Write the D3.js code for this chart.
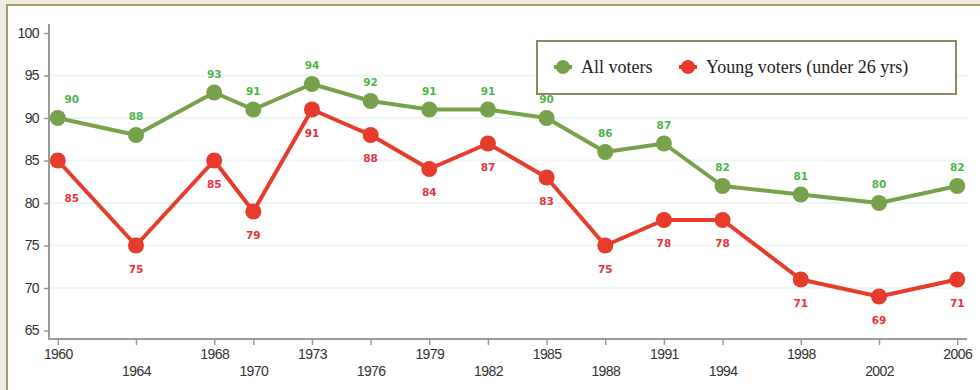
<!DOCTYPE html>
<html>
<head>
<meta charset="utf-8">
<script src="https://cdn.jsdelivr.net/npm/d3@7/dist/d3.min.js"></script>
<style>
  html, body { margin: 0; padding: 0; background: #efede2; }
  svg { display: block; }
</style>
</head>
<body>
<svg id="chart" width="980" height="390"></svg>
<script>
// Election years and turnout (%)
const years = [1960, 1964, 1968, 1970, 1973, 1976, 1979, 1982, 1985, 1988, 1991, 1994, 1998, 2002, 2006];
const allVoters = [90, 88, 93, 91, 94, 92, 91, 91, 90, 86, 87, 82, 81, 80, 82];
const youngVoters = [85, 75, 85, 79, 91, 88, 84, 87, 83, 75, 78, 78, 71, 69, 71];
const yTicks = [65, 70, 75, 80, 85, 90, 95, 100];
const seriesNames = ["All voters", "Young voters (under 26 yrs)"];

const colors = {
  allLine: "#77a24b",
  allText: "#4db64a",
  youngLine: "#e73b2c",
  youngText: "#e8333b"
};

const svg = d3.select("#chart");

// Panel background and frame
svg.append("rect").attr("x", 0).attr("y", 0).attr("width", 980).attr("height", 390).attr("fill", "#efede2");
svg.append("rect").attr("x", 7).attr("y", 5).attr("width", 980).attr("height", 400)
  .attr("fill", "#ffffff").attr("stroke", "#a39c6e").attr("stroke-width", 2);

const x = d3.scaleLinear().domain([1959.5, 2006.5]).range([48, 967]);
const y = d3.scaleLinear().domain([64, 101]).range([339, 24.5]);

// Horizontal gridlines
svg.append("g").selectAll("line")
  .data(yTicks.filter(t => t > 65 && t < 100))
  .join("line")
  .attr("x1", 50).attr("x2", 968)
  .attr("y1", d => y(d)).attr("y2", d => y(d))
  .attr("stroke", "#edf5f5").attr("stroke-width", 2);

const tickFont = "'Liberation Sans', Arial, sans-serif";

// Y axis
const yAxis = svg.append("g")
  .attr("transform", "translate(49,0)")
  .call(d3.axisLeft(y).tickValues(yTicks).tickSize(5).tickPadding(5).tickFormat(d3.format("d")));
yAxis.select(".domain").remove();
yAxis.selectAll(".tick line").attr("stroke", "#999").attr("stroke-width", 1.5);
yAxis.selectAll(".tick text")
  .attr("font-family", tickFont)
  .attr("font-size", 14).attr("letter-spacing", -0.6).attr("fill", "#333");
svg.append("line").attr("x1", 49).attr("x2", 49).attr("y1", 24).attr("y2", 340)
  .attr("stroke", "#9a9a9a").attr("stroke-width", 2);

// X axis with alternating label rows
const xAxis = svg.append("g")
  .attr("transform", "translate(0,339)")
  .call(d3.axisBottom(x).tickValues(years).tickSize(6).tickFormat(d3.format("d")));
xAxis.select(".domain").remove();
xAxis.selectAll(".tick line").attr("stroke", "#999").attr("stroke-width", 1.5);
xAxis.selectAll(".tick text")
  .attr("font-family", tickFont)
  .attr("font-size", 14).attr("letter-spacing", -0.6).attr("fill", "#333")
  .attr("y", (d, i) => i % 2 === 0 ? 10 : 27);
svg.append("line").attr("x1", 48).attr("x2", 967).attr("y1", 339).attr("y2", 339)
  .attr("stroke", "#9a9a9a").attr("stroke-width", 2);

// Legend box (under the series so value labels stay readable)
const legend = svg.append("g");
legend.append("rect").attr("x", 537).attr("y", 41).attr("width", 419).attr("height", 53)
  .attr("fill", "#ffffff").attr("stroke", "#8f8763").attr("stroke-width", 2);
const legendItems = [
  { name: seriesNames[0], color: colors.allLine, x: 563, tx: 581 },
  { name: seriesNames[1], color: colors.youngLine, x: 688, tx: 706 }
];
legendItems.forEach(it => {
  legend.append("line").attr("x1", it.x - 9).attr("x2", it.x + 9).attr("y1", 67).attr("y2", 67)
    .attr("stroke", it.color).attr("stroke-width", 4);
  legend.append("circle").attr("cx", it.x).attr("cy", 67).attr("r", 7).attr("fill", it.color);
  legend.append("text").attr("x", it.tx).attr("y", 73)
    .attr("font-family", "'Liberation Serif', 'Times New Roman', serif")
    .attr("font-size", 18).attr("fill", "#1e1e1e")
    .text(it.name);
});

// Series
const series = [
  { name: seriesNames[0], values: allVoters, line: colors.allLine, text: colors.allText, dy: -19 },
  { name: seriesNames[1], values: youngVoters, line: colors.youngLine, text: colors.youngText, dy: 23 }
];

const lineGen = d3.line().x(d => x(d.year)).y(d => y(d.value));

series.forEach(s => {
  const pts = years.map((yr, i) => ({ year: yr, value: s.values[i] }));
  const g = svg.append("g");
  g.append("path").datum(pts)
    .attr("d", lineGen)
    .attr("fill", "none").attr("stroke", s.line)
    .attr("stroke-width", 4).attr("stroke-linejoin", "round");
  g.selectAll("circle").data(pts).join("circle")
    .attr("cx", d => x(d.year)).attr("cy", d => y(d.value))
    .attr("r", 8).attr("fill", s.line);
  // First labels sit right of the axis; the lower one drops clear of its line
  g.selectAll("text").data(pts).join("text")
    .attr("x", (d, i) => x(d.year) + (i === 0 ? 14 : 0))
    .attr("y", (d, i) => y(d.value) + s.dy + (i === 0 && s.dy > 0 ? 14 : 0))
    .attr("text-anchor", "middle").attr("dominant-baseline", "central")
    .attr("font-family", "'DejaVu Sans', Verdana, sans-serif")
    .attr("font-weight", "bold").attr("font-size", 10.5)
    .attr("fill", s.text)
    .text(d => d.value);
});
</script>
</body>
</html>
